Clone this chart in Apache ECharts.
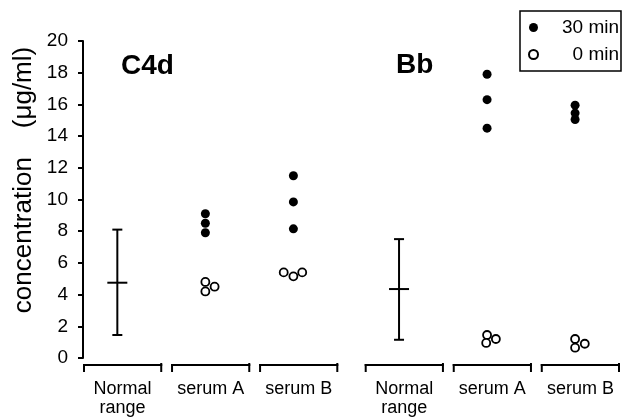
<!DOCTYPE html>
<html><head><meta charset="utf-8">
<script src="https://cdn.jsdelivr.net/npm/echarts@6/dist/echarts.min.js"></script>
<style>html,body{margin:0;padding:0;background:#fff}#c{width:624px;height:418px}</style>
</head><body><div id="c"></div>
<script>
// ---------------- data ----------------
const categories = ['Normal\nrange', 'serum A', 'serum B', 'Normal\nrange', 'serum A', 'serum B'];
const panels = ['C4d', 'Bb'];
const panelOfCategory = [0, 0, 0, 1, 1, 1];
const normalMean = [4.75, 4.35];
const normalLow = [1.45, 1.15];
const normalHigh = [8.1, 7.5];
const min30C4dA = [9.1, 8.5, 7.9];
const min30C4dB = [11.5, 9.85, 8.15];
const min30BbA = [17.9, 16.3, 14.5];
const min30BbB = [15.95, 15.45, 15.05];
const min0C4dA = [4.8, 4.2, 4.5];
const min0C4dB = [5.4, 5.15, 5.4];
const min0BbA = [1.45, 0.95, 1.2];
const min0BbB = [1.2, 0.65, 0.9];
const yTicks = [0, 2, 4, 6, 8, 10, 12, 14, 16, 18, 20];
const legendNames = ['30 min', '0 min'];

// ---------------- layout ----------------
const FONT = 'Liberation Sans, Arial, Helvetica, sans-serif';
const GROUP_GAP = 0.2, SLOT_W = 0.9, CENTER = 0.39;
const dodge0 = [[0, 0, 0.105], [-0.11, 0, 0.1], [0, -0.01, 0.1], [0, 0, 0.11]];
function slotStart(i) { return i + panelOfCategory[i] * GROUP_GAP; }
function cx(i) { return slotStart(i) + CENTER; }

const filledSets = [[1, min30C4dA], [2, min30C4dB], [4, min30BbA], [5, min30BbB]];
const openSets = [[1, min0C4dA], [2, min0C4dB], [4, min0BbA], [5, min0BbB]];
const filledData = [], openData = [];
filledSets.forEach(([ci, vals]) => vals.forEach(v => filledData.push([cx(ci), v])));
openSets.forEach(([ci, vals], k) => vals.forEach((v, j) => openData.push([cx(ci) + dodge0[k][j], v])));
const normalCats = categories.map((c, i) => i).filter(i => categories[i].startsWith('Normal'));
const errData = normalCats.map((ci, p) => [cx(ci), normalLow[p], normalHigh[p], normalMean[p]]);
const bracketData = categories.map((c, i) => [slotStart(i), slotStart(i) + SLOT_W, i]);
const xMax = slotStart(categories.length - 1) + SLOT_W;

const chart = echarts.init(document.getElementById('c'), null, { renderer: 'canvas' });
const line = { stroke: '#000', lineWidth: 2 };
chart.setOption({
  animation: false,
  backgroundColor: '#fff',
  title: [
    { text: panels[0], left: 121, top: 52, padding: 0, textStyle: { fontSize: 28, fontWeight: 'bold', fontFamily: FONT, color: '#000' } },
    { text: panels[1], left: 396, top: 51, padding: 0, textStyle: { fontSize: 28, fontWeight: 'bold', fontFamily: FONT, color: '#000' } }
  ],
  legend: {
    orient: 'vertical', left: 520, top: 11,
    data: legendNames,
    itemWidth: 9, itemHeight: 9, itemGap: 8,
    padding: [7, 2, 7, 8],
    borderColor: '#000', borderWidth: 1.5, borderRadius: 0,
    selectedMode: false,
    formatter: '{r|{name}}',
    textStyle: { color: '#000', fontFamily: FONT, fontSize: 19,
      rich: { r: { width: 76, align: 'right', fontSize: 19, fontFamily: FONT, color: '#000' } } }
  },
  grid: { left: 83, right: 624 - 83 - 537, top: 41, bottom: 60 },
  xAxis: { type: 'value', min: 0, max: xMax, show: false },
  yAxis: {
    type: 'value', min: 0, max: 20, interval: 2,
    axisLine: { show: true, lineStyle: { color: '#000', width: 2 } },
    axisTick: { show: true, length: 5, lineStyle: { color: '#000', width: 2 }, customValues: yTicks },
    axisLabel: { color: '#000', fontSize: 19, fontFamily: FONT, margin: 15, customValues: yTicks },
    splitLine: { show: false }
  },
  graphic: [{
    type: 'text', x: 24, y: 180, rotation: Math.PI / 2,
    style: { text: 'concentration    (μg/ml)', align: 'center', verticalAlign: 'middle', fontSize: 26, fontFamily: FONT, fill: '#000' }
  }],
  series: [
    { name: legendNames[0], type: 'scatter', symbol: 'circle', symbolSize: 9, data: filledData,
      itemStyle: { color: '#000', opacity: 1 } },
    { name: legendNames[1], type: 'scatter', symbol: 'circle', symbolSize: 8, data: openData,
      itemStyle: { color: '#fff', borderColor: '#000', borderWidth: 1.8, opacity: 1 } },
    { name: 'normal', type: 'custom', clip: false, data: errData,
      renderItem(params, api) {
        const x = api.value(0);
        const pl = api.coord([x, api.value(1)]), ph = api.coord([x, api.value(2)]), pm = api.coord([x, api.value(3)]);
        return { type: 'group', children: [
          { type: 'line', shape: { x1: pl[0], y1: pl[1], x2: ph[0], y2: ph[1] }, style: line },
          { type: 'line', shape: { x1: ph[0] - 5, y1: ph[1], x2: ph[0] + 5, y2: ph[1] }, style: line },
          { type: 'line', shape: { x1: pl[0] - 5, y1: pl[1], x2: pl[0] + 5, y2: pl[1] }, style: line },
          { type: 'line', shape: { x1: pm[0] - 10, y1: pm[1], x2: pm[0] + 10, y2: pm[1] }, style: line }
        ] };
      } },
    { name: 'brackets', type: 'custom', clip: false, data: bracketData,
      renderItem(params, api) {
        const a = api.coord([api.value(0), 0]), b = api.coord([api.value(1), 0]);
        const y = a[1] + 7;
        return { type: 'group', children: [
          { type: 'line', shape: { x1: a[0], y1: y, x2: b[0], y2: y }, style: line },
          { type: 'line', shape: { x1: a[0] + 1, y1: y - 1, x2: a[0] + 1, y2: y + 7 }, style: line },
          { type: 'line', shape: { x1: b[0] - 1, y1: y - 2, x2: b[0] - 1, y2: y + 7 }, style: line },
          { type: 'text', x: (a[0] + b[0]) / 2, y: y + 15,
            style: { text: categories[api.value(2)], align: 'center', verticalAlign: 'top', fontSize: 18, lineHeight: 18.5, fontFamily: FONT, fill: '#000' } }
        ] };
      } }
  ]
});
</script>
</body></html>
